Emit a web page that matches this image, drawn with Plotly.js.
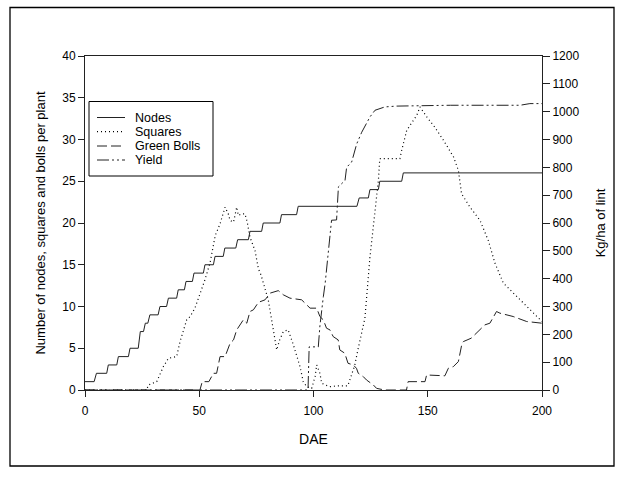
<!DOCTYPE html>
<html>
<head>
<meta charset="utf-8">
<script src="https://cdn.plot.ly/plotly-3.0.1.min.js"></script>
<style>html,body{margin:0;padding:0;background:#fff;}#chart{width:624px;height:477px;}</style>
</head>
<body>
<div id="chart"></div>
<script>
// ---- Data ----
const nodesX = [0, 4, 5, 9.5, 10.2, 13.9, 14.6, 19, 19.7, 23.3, 24.2, 25.6, 26.4, 27.5, 28.4, 32, 32.8, 35.7, 36.5, 40.1, 40.8, 43.5, 44.2, 47, 47.7, 51.8, 52.5, 56.2, 56.9, 60.5, 61.2, 66, 66.8, 71.5, 72.2, 77.3, 78, 85.3, 86, 92.6, 93.3, 119, 120, 124, 124.7, 128.4, 129, 138.6, 139.3, 200];
const nodesY = [1, 1, 2, 2, 3, 3, 4, 4, 5, 5, 7, 7, 8, 8, 9, 9, 10, 10, 11, 11, 12, 12, 13, 13, 14, 14, 15, 15, 16, 16, 17, 17, 18, 18, 19, 19, 20, 20, 21, 21, 22, 22, 23, 23, 24, 24, 25, 25, 26, 26];

const squaresX = [0, 27, 27.7, 31.4, 34.3, 36.5, 40.1, 41.6, 44.5, 46, 48.1, 50.3, 52.5, 54.7, 57, 59.1, 61.3, 62.7, 63.5, 65, 66.4, 67.1, 68.6, 70, 71, 72.2, 74.4, 75.9, 77, 80.2, 82.4, 83.9, 85.2, 86.8, 88.9, 91.2, 94.1, 95.5, 97, 99.2, 100.7, 101.4, 102.8, 103.6, 107, 111, 115, 118, 119.5, 122.5, 124.7, 126.2, 128.4, 129, 137.8, 138.6, 140.8, 145.2, 146.6, 149.6, 153, 156.9, 161.3, 163.4, 164.8, 168.5, 172.9, 176.5, 179.4, 183.1, 187.4, 191.8, 196.2, 200];
const squaresY = [0, 0, 0.6, 1.0, 2.8, 3.8, 4.0, 5.8, 8.4, 8.8, 9.8, 11.4, 13.2, 15.2, 18.5, 19.9, 21.9, 21.1, 20.3, 20.1, 21.9, 20.9, 21.1, 21.1, 20.1, 18.3, 16.7, 14.5, 13.8, 10.8, 7.2, 4.8, 6.0, 7.0, 7.2, 5.4, 2.8, 1.0, 0.4, 0.2, 1.6, 3.0, 2.0, 0.8, 0.4, 0.5, 0.5, 2.9, 4.9, 8.6, 15.9, 19.6, 25.1, 27.7, 27.7, 28.7, 31.1, 32.9, 33.9, 32.7, 31.5, 29.9, 27.9, 26.3, 23.5, 21.9, 20.3, 17.9, 15.2, 12.8, 11.6, 10.4, 9.2, 8.2];

const bollsX = [0, 50.3, 51.3, 54.2, 56.2, 57.6, 59.1, 61.3, 63.5, 65, 66.4, 69.3, 70.8, 72.2, 73.7, 75.9, 78.8, 81, 84.6, 86.8, 89.7, 94.8, 98.5, 101.4, 102.8, 104.3, 105.7, 107.2, 108.6, 110.8, 111.5, 113.7, 115.1, 117.4, 118.8, 119.6, 121.8, 123.2, 126.2, 127.6, 131, 140.7, 141.4, 148.8, 149.5, 157.5, 159, 161.2, 163.4, 165, 165.6, 167, 169, 173.5, 175, 177.2, 180.1, 181.6, 187.4, 193.3, 200];
const bollsY = [0, 0, 1.0, 1.0, 2.0, 2.0, 4.0, 4.0, 5.6, 6.0, 7.2, 8.4, 8.0, 9.4, 9.6, 10.5, 10.8, 11.6, 11.9, 11.4, 11.0, 10.8, 9.8, 9.8, 8.8, 8.4, 7.4, 7.2, 6.4, 6.0, 4.8, 4.4, 3.2, 3.0, 2.6, 2.0, 1.6, 1.2, 0.6, 0.2, 0, 0, 1.0, 1.0, 1.8, 1.7, 2.6, 2.8, 3.4, 5.6, 5.8, 6.0, 6.2, 7.4, 7.8, 8.0, 9.4, 9.2, 8.8, 8.2, 8.0];

const yieldX = [0, 97.6, 98.1, 102.1, 102.8, 103.6, 104.3, 105.1, 105.8, 106.5, 107.9, 110.1, 110.9, 113.8, 114.5, 116.7, 118.9, 121.1, 123.3, 124.7, 126.9, 129, 131.2, 136.3, 160, 190.4, 194.7, 200];
const yieldY = [0, 0, 155, 155, 230, 299, 335, 383, 440, 490, 610, 611, 730, 753, 800, 819, 884, 926, 962, 981, 1005, 1011, 1017, 1020, 1023, 1023, 1029, 1029];

const seriesNames = ["Nodes", "Squares", "Green Bolls", "Yield"];
const xTicks = [0, 50, 100, 150, 200];

// ---- Styles ----
const FONT = "Liberation Sans, Arial, sans-serif";
const styles = [
  {color: "#222", width: 1, dash: "solid"},
  {color: "#000", width: 1.2, dash: "1px,3px"},
  {color: "#222", width: 1, dash: "10px,4px"},
  {color: "#222", width: 1, dash: "12px,3px,2px,3px,2px,3px"}
];

const traces = [
  {x: nodesX, y: nodesY, name: seriesNames[0], yaxis: "y", line: styles[0]},
  {x: squaresX, y: squaresY, name: seriesNames[1], yaxis: "y", line: styles[1]},
  {x: bollsX, y: bollsY, name: seriesNames[2], yaxis: "y", line: styles[2]},
  {x: yieldX, y: yieldY, name: seriesNames[3], yaxis: "y2", line: styles[3]}
].map(t => Object.assign({type: "scatter", mode: "lines", hoverinfo: "skip", cliponaxis: false}, t));

// legend drawn manually (compact, like the reference)
const L = 85, PW = 457, B = 390, PH = 334;
const px = v => (v - L) / PW, py = v => (B - v) / PH;
const rowsY = [117.5, 131.7, 146, 160];
const shapes = [
  {type: "rect", xref: "paper", yref: "paper", x0: px(10), x1: px(614), y0: py(466), y1: py(7.5), line: {color: "#000", width: 1.3}},
  {type: "rect", xref: "paper", yref: "paper", x0: px(89), x1: px(213), y0: py(176), y1: py(101.5), line: {color: "#000", width: 1}, fillcolor: "#fff", layer: "above"}
];
const annotations = [];
seriesNames.forEach((n, i) => {
  shapes.push({type: "line", xref: "paper", yref: "paper", x0: px(97), x1: px(125), y0: py(rowsY[i]), y1: py(rowsY[i]), line: styles[i], layer: "above"});
  annotations.push({xref: "paper", yref: "paper", x: px(133), y: py(rowsY[i]), text: n, showarrow: false, xanchor: "left", yanchor: "middle", font: {family: FONT, size: 12.5, color: "#000"}});
});

const axisCommon = {showline: true, linecolor: "#222", linewidth: 1, ticks: "outside", tickcolor: "#222", showgrid: false, zeroline: false, tickfont: {family: FONT, size: 12, color: "#000"}};

const layout = {
  width: 624, height: 477,
  margin: {l: 85, r: 82, t: 56, b: 87, pad: 0},
  paper_bgcolor: "#fff", plot_bgcolor: "#fff",
  showlegend: false,
  font: {family: FONT, color: "#000"},
  xaxis: Object.assign({}, axisCommon, {range: [0, 200], tickvals: xTicks, ticklen: 6, mirror: true, ticklabelstandoff: 4,
    title: {text: "DAE", font: {family: FONT, size: 14, color: "#000"}, standoff: 16}}),
  yaxis: Object.assign({}, axisCommon, {range: [0, 40], dtick: 5, ticklen: 6,
    title: {text: "Number of nodes, squares and bolls per plant", font: {family: FONT, size: 13, color: "#000"}, standoff: 13}}),
  yaxis2: Object.assign({}, axisCommon, {range: [0, 1200], dtick: 100, ticklen: 7, overlaying: "y", side: "right",
    title: {text: "Kg/ha of lint", font: {family: FONT, size: 13, color: "#000"}, standoff: 17}}),
  shapes: shapes,
  annotations: annotations
};

Plotly.newPlot("chart", traces, layout, {displayModeBar: false, staticPlot: true});
</script>
</body>
</html>
